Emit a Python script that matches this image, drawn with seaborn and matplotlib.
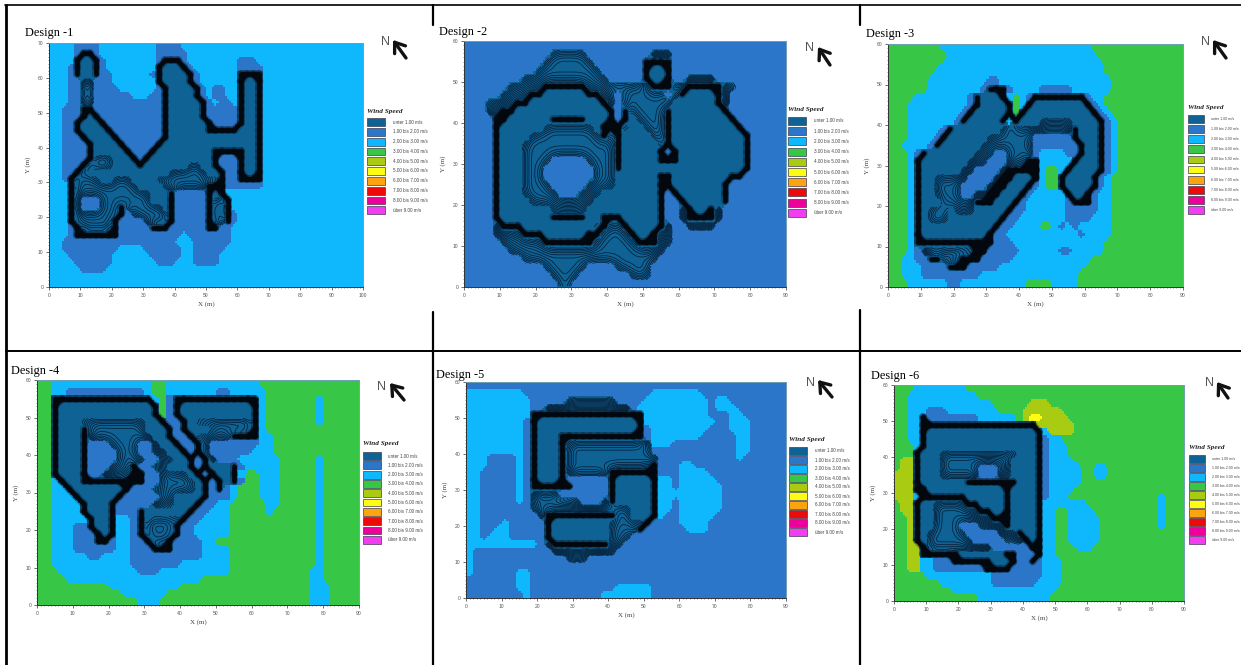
import numpy as np
import seaborn as sns
import matplotlib
matplotlib.use('Agg')
import matplotlib.pyplot as plt
from matplotlib.collections import LineCollection
from matplotlib.colors import ListedColormap
from matplotlib.lines import Line2D
from matplotlib.patches import Rectangle

W, H = 1241, 665

# wind classes; cell codes: 0-5 = class, w = wall (dense contours), t = contour band
COLORS = ['#0e6294', '#2b76c9', '#0fb8fd', '#38c646', '#a9cc12',
          '#fdfd14', '#fba40f', '#ee0a0a', '#ee009b', '#f23df0']
LABELS = ['unter 1.00 m/s', '1.00 bis 2.00 m/s', '2.00 bis 3.00 m/s', '3.00 bis 4.00 m/s',
          '4.00 bis 5.00 m/s', '5.00 bis 6.00 m/s', '6.00 bis 7.00 m/s', '7.00 bis 8.00 m/s',
          '8.00 bis 9.00 m/s', 'über 9.00 m/s']

# each string is one row from the top, one character per 2 m x 2 m cell
DESIGN_1 = [
    "2222111122 2222222111 1222222222",
    "22221ww122 2222222111 1122222222",
    "2222w00w12 22222221ww w122222222 1112222222",
    "2221w00w12 2222222w00 0w12222222 1111222222",
    "2221w00w11 2222221w00 00w1222222 wwww222222",
    "22211tt111 2222222w00 00w1222222 w00w222222",
    "22211tt111 12222221w0 000w121122 w00w222222",
    "22211tt111 11122211w0 000w121122 w00w222222",
    "22211tt111 11111111w0 0000w12112 w00w222222",
    "22111ww111 11111111w0 0000w11111 w00w222222",
    "22111w0w11 11111111w0 0000w11111 w00w222222",
    "2211w000w1 11111111w0 00000w1111 w00w222222",
    "2211w0000w 11111111w0 00000wwwww 000w222222",
    "22111w0000 w1111111w0 0000000000 000w222222",
    "221111w000 0w11111w00 0000000000 000w222222",
    "221111w000 00w111w000 000000wwww w00w222222",
    "221111wttt 000w1w0000 000000w111 w00w222222",
    "22111wtttt 0000w00000 00tt00w111 w00w222222",
    "2211wt0000 000000000t ttttt00w11 w00w222222",
    "221wtttt00 ttt0000ttt tttttttw11 wwww222222",
    "222wtttttt tttt0000tt tttttwww11 1111222222",
    "222wtttttt tttttt000w 11111w0w22",
    "222wt111tt tttttt000w 11111wttw2",
    "222wt111tt twtttttt0w 11111wttw2",
    "222wtttttt tw1ttttttw 11111wttw1",
    "222wtttttt w1111ttttw 11111wttw1",
    "2221wttttt w11111www1 11111ww112",
    "2221wwwwww w111111111 1211111112",
    "2211111111 1111111111 2221111112",
    "2211111111 1222211111 1221111122",
    "2221111111 2222221111 1221111222",
    "2222111111 2222222111 2221111222",
    "2222211112",
    "",
    "",
]

DESIGN_2 = [
    "",
    "1111111111 11ttttt111 111111ttt1",
    "1111111111 1ttttttt11 11111wwww1",
    "1111111111 ttttttttt1 11111w00w1",
    "11111111tt tttttttttt 11111w00w1 1tttt",
    "111111tttt twwwwwwttt ttttttwwwt twwwwwtt",
    "11111ttttw w000000wwt t1tttttt1t w0000wt",
    "111ttttww0 000000000w t1ttttttt0 00000wt",
    "111ttww000 0000000000 w1wtttttw0 000000w1",
    "1111ww0000 00wwwww000 w1w0ttttw0 0000000w",
    "1111w00000 0ttttttt0w wwt00tttw0 00000000w1",
    "1111w0000t tttttttttw tw0000ttw0 000000000w",
    "1111w000tt tttttttttt tw00000tw0 000000000w",
    "1111w000tt tttttttttt tw00000w1w 000000000w",
    "1111w000tt tt11111ttt tw00000www 000000000w",
    "1111w000tt t1111111tt tw00000000 000000000w",
    "1111w000tt t1111111tt t000000ww0 0000000ww1",
    "1111w000tt tt11111ttt t000000ww0 000000w111",
    "1111w000tt ttt111ttt0 0000000w1w 000000w111",
    "1111w0000t tttttttt00 0000000w11 w00000w111",
    "1111w00000 00ttttt000 0000000w11 tw00wt1111",
    "1111w00000 00wwwww00w ww00000w11 twwwwt1111",
    "1111twww00 00000000tw ttw0000wt1 1tttt",
    "1111ttttww w000000wwt tttw00wtt1",
    "11111ttttt twwwwwwwtt ttttwwwtt1",
    "111111tttt tttttttttt tttttttt11",
    "11111111tt tttttttttt ttttttt111",
    "1111111111 1tttttt111 1ttttt1111",
    "1111111111 11tttt1111 111ttt1111",
    "1111111111 111tt",
]

DESIGN_3 = [
    "3333333322 2222222222 2222222222 2333333333",
    "3333333332 2222222222 2222222222 2233333333",
    "3333333322 2222222222 2222222222 2223333333",
    "3333333222 2222222222 2222222222 2223333333",
    "3333332222 2222211222 2222222222 2222333333",
    "3333332222 22221www12 2221111122 2222333333",
    "3333222222 221w000w23 21wwwwwwww 1223333333",
    "3332222222 221w0000w3 2w00000000 w123333333",
    "3332222222 21w00000w3 w000000000 0w12333333",
    "3332222222 1w00000w2w 000ttttt00 00w1233333",
    "333222221w 0000000ttt ttttttttw0 00w1233333",
    "33322221w0 00000ttttt tt111111w0 00w1233333",
    "3322221w00 0000tttttt tt1111111w 00w1233333",
    "33321w0000 000ttt11tt tt1222211w 00w1233333",
    "3332w00000 00ttt111tt tww22222w0 00w1233333",
    "3332w00000 0tt1111tww www2332w00 00w1233333",
    "3332w00ttt tt1111tww0 00w233w000 0w12333333",
    "3332w00ttt t1111tww00 0w1233w000 0w12333333",
    "3332w00ttt t11ttww000 w122222w00 w122333333",
    "3332w000tt tttwww000w 12222221ww w122333333",
    "3332w0ttt0 ttt00000w1 1222222111 1122333333",
    "3332w0ttt0 0000000w11 2222222111 1222333333",
    "3332w00000 000000w112 2223321212 2222333333",
    "3332w00000 00000w1122 2222222221 2222333333",
    "3332wwwwww wwwwww1112 2222222222 2223333333",
    "33321ttttt tttww11111 2222221122 2223333333",
    "332211wwtt twww111112 2222222222 2333333333",
    "332221111w ww11111222 2222222222",
    "3322211111 1111222222 2222222223",
    "3332222221 1222222222 2333322223",
]

DESIGN_4 = [
    "3322222222 2222223322 2222222222 2",
    "3322111111 1111123322 2222211222 22",
    "33wwwwwwww wwwwww231w wwwwwwwwww w233333332",
    "33w0000000 000000w31w 0000000000 w233333332",
    "33w0000000 000000w31w 0000000000 w233333332",
    "33w000tttt ttttt00w11 w0tttttttt w233333332",
    "33w000wttt ttttt000w1 w000tttttt w233333333",
    "33w000wttt tttttt00w1 1wtttttwww w223333333",
    "33w000w111 tttt11t00w 11wt111111 1223333333",
    "33w000w111 1ttt11tt00 w1wt111111 2223333333",
    "33w000w111 1tttt11tt0 0w1wt11122 2222333332",
    "33w000w111 tttw11tt00 0w1w000w12 2222333332",
    "33w000w11t tttww11ttt t0w1w00w23 3222333332",
    "332w00wwww wwwww11ttt tt0w1w0w13 3222333332",
    "3322w00000 00w111tttt tt0w1w1233 3222333332",
    "33222w0000 0w11111tt0 000w111233 3222333332",
    "332222w000 w11111ttt0 00w1122333 3322333332",
    "332222w000 w111w00000 0w11222333 3323333332",
    "3322222w00 w221wttttt w112222333 3333333332",
    "3322211w00 w221wttttw 1122222333 3333333332",
    "33222111w0 w221wttttw 1122222333 3333333332",
    "33222111ww 12211wttw1 1112233333 3333333332",
    "3322211111 122111www1 1112222333 3333333332",
    "3322222112 2221111111 1112222333 3333333332",
    "3322222222 2221111111 2222222333 3333333332",
    "3332222222 2222111222 2222222333 3333333322",
    "3333222222 2222222222 2223333333 3333333322",
    "3333333333 2222222222 3333333333 33333333222",
    "3333333333 3322222233 3333333333 33333333222",
    "3333333333 3333222333 3333333333 33333333222",
]

DESIGN_5 = [
    "",
    "2222222211 1111111111 1111112222 222",
    "2222222221 1111tttttt t111122222 2222122",
    "2222222221 1ttttttttt ttt1222222 22221222",
    "222222222w wwwwwwwwww wwwww22222 222211122",
    "222222221w 0000000000 0000w22222 2222211222",
    "222222221w 0000000000 0000w12222 2222111222",
    "222222221w 000wwwwwww wwwww12222 2221111122",
    "222222221w 000wtttttt tttttt2221 1111111122",
    "222222221w 000wtttttt tttttt1111 1111111122",
    "222111121w 000wtttttt ttttttt111 1111111121",
    "222111121w 000wtttttt ttttttw111 22",
    "221111121w 000wtttttt wwwwwww111 2222",
    "221111121w 000w111111 w00000w221 22222",
    "221111121w wwwww11111 w00000w221 222222",
    "221111121t ttt1111111 w00000w222 222222",
    "221111121t tttttt111t w00000w221 222222",
    "221111111t tttttttttt ttt000w221 222222",
    "2211111111 twwwwwwwww wtt000w211 22222",
    "2211121111 1w00000000 tttttw1111 2222",
    "2211221111 1w00000000 ttttw11111 1222",
    "2212221111 1w00000000 ttt1111111",
    "2222222222 1twwwwwwww tt11111111",
    "2111111111 11tttttttt t111111111",
    "2111111111 1111ttt111",
    "2",
    "2111111221",
    "1111111221",
    "1111111221 1111111111 1222221111",
    "1111111121 1111111112 2222221111",
]

DESIGN_6 = [
    "3332222222 2333333333",
    "3322222222 2223333333",
    "3322222222 2222233333 3444333333",
    "3322211122 2222223333 4444443333",
    "3322w11111 1112222223 4554444333",
    "3322wwwwww wwwwwwwwww ww44444433",
    "3322w00000 0000000000 00w2444433",
    "3322w00000 0000000000 00w1223333",
    "3332w00000 0000000000 00w1222333",
    "333w000ttt ttttttttt0 00w1222333",
    "344w000ttt tttttttt00 00w1222233",
    "344w000ttt ttt111tt00 00w1222223 322",
    "444w000ttt ttt111tt00 00w1222223 322",
    "444w000000 0wwwwwwww0 00w1222223",
    "444ww00000 0000000w00 00w1222233",
    "4442wwwwww w000000w00 00w1222333 3333333333 32",
    "344w00tttt tww0000w00 00w2222222 3333333333 32",
    "344w00tttt tttww00w00 00w2233222 2333333333 32",
    "334w00tttt tttttwww00 00w2233222 2233333333 32",
    "334w00tttt 111ttttw00 00w2233222 2233333333 32",
    "334w0ttttt t11111tttw 00w2233222 22",
    "334w0ttttt tt11111ttt w0w2233222 22",
    "3344wttttt ttttt11111 1ww2233322 2",
    "3344wwwwww 0000000ww1 11w2233333",
    "3344221 11w wwwww000w1 1w12223333",
    "3344221111 1111wwww11 1112223333",
    "3333322222 2222211111 1112223333",
    "3333333222 2222211111 1122223333",
    "3333333332 2222222222 2222233333",
    "3333333333 3332222222 2222333333",
]

# tuples are in reference pixels: plot box, title, legend, north arrow
PANELS = [
    dict(rows=DESIGN_1, fill='2', xmax=100, ymax=70, box=(49, 43, 363, 287), title=('Design -1', 25, 33),
         leg=(367, 385, 122, 9.8, 393, 112, 3.3), north=(386, 42, 393, 40, 406, 58)),
    dict(rows=DESIGN_2, fill='1', xmax=90, ymax=60, box=(464, 41, 786, 287), title=('Design -2', 439, 32),
         leg=(788, 806, 121, 10.2, 814, 109, 3.3), north=(809, 48, 818, 47, 830, 65)),
    dict(rows=DESIGN_3, fill='3', xmax=90, ymax=60, box=(888, 44, 1183, 287), title=('Design -3', 866, 34),
         leg=(1188, 1204, 119, 10.1, 1211, 107, 2.6), north=(1206, 42, 1213, 40, 1226, 58)),
    dict(rows=DESIGN_4, fill='3', xmax=90, ymax=60, box=(37, 380, 359, 605), title=('Design -4', 11, 371),
         leg=(363, 381, 456, 9.3, 388, 444, 3.3), north=(382, 387, 390, 383, 404, 400)),
    dict(rows=DESIGN_5, fill='1', xmax=90, ymax=60, box=(466, 382, 786, 598), title=('Design -5', 436, 375),
         leg=(789, 807, 451, 9.0, 815, 440, 3.3), north=(810, 383, 818, 380, 832, 397)),
    dict(rows=DESIGN_6, fill='3', xmax=90, ymax=60, box=(894, 385, 1184, 601), title=('Design -6', 871, 376),
         leg=(1189, 1205, 459, 9.0, 1212, 448, 2.6), north=(1209, 383, 1217, 382, 1228, 398)),
]

CELL = 2   # metres per grid cell
FINE = 3   # drawn cells per grid cell
UP = 4     # oversampling for the contour overlays
sns.set_theme(style='white')
plt.rcParams['font.family'] = ['Liberation Sans', 'DejaVu Sans']
SERIF = 'Liberation Serif'


def fx(x):
    return x / W


def fy(y):
    return 1 - y / H


def parse(rows, ncols, fill):
    out = []
    for row in rows:
        s = ''.join(row.split())
        if len(s) > ncols:
            print('long row', len(s), s)
        out.append(list(s[:ncols].ljust(ncols, fill)))
    return np.array(out)


def blur(a, n):
    k = np.hanning(n + 2)[1:-1]
    k = k / k.sum()
    pad = n // 2 + 1
    b = np.pad(a, pad, mode='edge')
    b = np.apply_along_axis(lambda m: np.convolve(m, k, mode='same'), 0, b)
    b = np.apply_along_axis(lambda m: np.convolve(m, k, mode='same'), 1, b)
    return b[pad:-pad, pad:-pad]


def round_steps(codes):
    # majority filter on the finer raster, takes the corners off the 2 m steps
    fine = np.kron(codes, np.ones((FINE, FINE), dtype=int))
    classes = np.unique(codes)
    votes = np.stack([blur((fine == c).astype(float), 5) for c in classes])
    return classes[votes.argmax(axis=0)]


def wall_segments(grid):
    # link the centres of touching wall cells
    segs = []
    rows, cols = np.nonzero(grid == 'w')
    on = set(zip(rows.tolist(), cols.tolist()))
    for r, c in on:
        for dr, dc in ((0, 1), (1, 0), (1, 1), (1, -1)):
            if (r + dr, c + dc) in on:
                segs.append([((c + 0.5) * FINE, (r + 0.5) * FINE),
                             ((c + dc + 0.5) * FINE, (r + dr + 0.5) * FINE)])
    return segs


fig = plt.figure(figsize=(W / 100, H / 100), dpi=100, facecolor='white')
cmap = ListedColormap(COLORS)

for p in PANELS:
    ncols, nrows = p['xmax'] // CELL, p['ymax'] // CELL
    grid = parse(p['rows'], ncols, p['fill'])
    codes = np.where(np.isin(grid, ['w', 't']), '0', grid).astype(int)

    x0, y0, x1, y1 = p['box']
    ax = fig.add_axes([fx(x0), fy(y1), (x1 - x0) / W, (y1 - y0) / H])
    sns.heatmap(round_steps(codes), cmap=cmap, vmin=-0.5, vmax=9.5, cbar=False, square=False, ax=ax,
                xticklabels=False, yticklabels=False)

    # oversampled overlays: contour band lines, then the thick wall fringe
    big = lambda a: np.kron(a, np.ones((UP, UP)))
    xs = (np.arange(ncols * UP) + 0.5) / UP * FINE
    ys = (np.arange(nrows * UP) + 0.5) / UP * FINE
    field = np.where(np.isin(grid, ['w', '0']), 0.0, np.where(grid == 't', 0.5, 1.0))
    soft = blur(big(field), 4 * UP)
    band = np.ma.masked_where(blur(big((grid == 't').astype(float)), UP) < 0.5, soft)
    ax.contour(xs, ys, band, levels=np.arange(0.04, 1.0, 0.04), colors='#07182e', linewidths=0.5)

    segs = wall_segments(grid)
    ax.add_collection(LineCollection(segs, colors='#0a1a2a', linewidths=5.8, alpha=0.35, capstyle='round'))
    ax.add_collection(LineCollection(segs, colors='#03080f', linewidths=3.4, capstyle='round'))

    # axis furniture
    major_x = np.arange(0, p['xmax'] + 1, 10)
    major_y = np.arange(0, p['ymax'] + 1, 10)
    ax.set_xticks(major_x / CELL * FINE)
    ax.set_xticklabels(major_x, fontsize=3.6, color='#555555')
    ax.set_yticks((p['ymax'] - major_y) / CELL * FINE)
    ax.set_yticklabels(major_y, fontsize=3.6, color='#555555', rotation=0)
    ax.set_xticks(np.arange(0, p['xmax'] + 1) / CELL * FINE, minor=True)
    ax.set_yticks(np.arange(0, p['ymax'] + 1) / CELL * FINE, minor=True)
    ax.tick_params(which='major', length=2.5, width=0.5, pad=1.5, color='#333333', bottom=True, left=True)
    ax.tick_params(which='minor', length=1, width=0.4, color='#333333', bottom=True, left=True)
    ax.set_xlabel('X (m)', fontsize=5, color='#444444', labelpad=2.5, family=SERIF)
    ax.set_ylabel('Y (m)', fontsize=5, color='#444444', labelpad=5, family=SERIF)
    for side, spine in ax.spines.items():
        spine.set_visible(True)
        spine.set_linewidth(0.7)
        spine.set_color('#333333' if side in ('left', 'bottom') else '#6f9fb4')

    text, tx, ty = p['title']
    fig.text(fx(tx), fy(ty), text, family=SERIF, fontsize=8.8, color='black', va='center', ha='left')

    # wind speed legend
    lx0, lx1, ly, step, ltx, lty, lfs = p['leg']
    fig.text(fx(lx0), fy(lty), 'Wind Speed', family=SERIF, fontsize=5.2, style='italic',
             weight='bold', color='#222222', va='center')
    for n, (c, lab) in enumerate(zip(COLORS, LABELS)):
        cy = ly + n * step
        fig.add_artist(Rectangle((fx(lx0), fy(cy + 3.9)), (lx1 - lx0) / W, 7.8 / H, transform=fig.transFigure,
                                 facecolor=c, edgecolor='#3c3c50', linewidth=0.5))
        fig.text(fx(ltx), fy(cy), lab, fontsize=lfs, color='#444444', va='center')

    # north arrow
    nx, ny, ax_, ay_, bx_, by_ = p['north']
    fig.text(fx(nx), fy(ny), 'N', fontsize=9, color='#555555', ha='center', va='center')
    ax.annotate('', xy=(fx(ax_), fy(ay_)), xytext=(fx(bx_), fy(by_)),
                xycoords='figure fraction', textcoords='figure fraction', annotation_clip=False,
                arrowprops=dict(arrowstyle='->,head_length=0.55,head_width=0.4', lw=2.4, color='#111111',
                                shrinkA=0, shrinkB=0))

# table rules around the pasted pictures
rules = [((6, 6), (5, 665), 2.0), ((433, 433), (5, 25), 1.6), ((433, 433), (312, 665), 1.6),
         ((860, 860), (5, 25), 1.6), ((860, 860), (310, 665), 1.6), ((5, 1241), (5, 5), 1.2),
         ((6, 1241), (351, 351), 1.4)]
for xv, yv, lw in rules:
    fig.add_artist(Line2D([fx(v) for v in xv], [fy(v) for v in yv], transform=fig.transFigure,
                          color='black', linewidth=lw))

fig.savefig('out.png', dpi=100)
